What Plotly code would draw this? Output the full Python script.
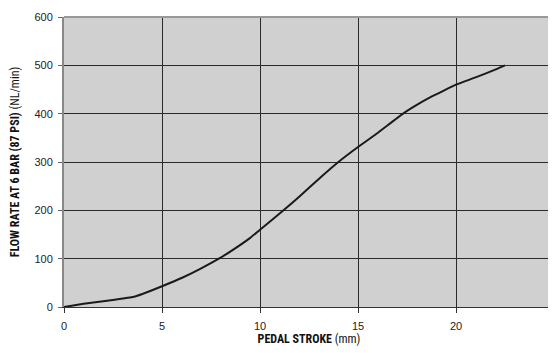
import plotly.graph_objects as go

stroke_mm = [0, 1, 2, 3, 3.5, 4, 5, 6, 7, 7.9, 8.5, 9.5, 10, 11.2, 12, 13, 14, 15, 16, 17.3, 18, 18.7, 19.2, 20, 21, 22, 22.5]
flow_nlmin = [0, 6.5, 12, 17.5, 20.5, 27, 43, 60, 80, 100, 115, 143, 160, 200, 228, 265, 300, 331, 360, 400, 418, 434, 444, 460, 475, 491, 500]

x_ticks = [0, 5, 10, 15, 20, 25]
y_ticks = [0, 100, 200, 300, 400, 500, 600]

fig = go.Figure()
fig.add_trace(go.Scatter(x=stroke_mm, y=flow_nlmin, mode="lines",
                         line=dict(color="#1a1a1a", width=2, shape="spline", smoothing=0.5),
                         showlegend=False, hoverinfo="skip"))

tick_font = dict(family="Liberation Sans, Arial, sans-serif", size=11, color="#222")
title_font = dict(family="Liberation Sans Narrow, Roboto Condensed, Liberation Sans, sans-serif", size=12, color="#111")

fig.update_layout(
    width=556, height=353,
    margin=dict(l=55.5, r=10, t=8.5, b=53.5, autoexpand=False),
    paper_bgcolor="white", plot_bgcolor="#d0d0d0",
    xaxis=dict(range=[0, 25], tickvals=x_ticks, showgrid=True, gridcolor="#2a2a2a", gridwidth=1,
               zeroline=False, showline=True, linecolor="#333", linewidth=1,
               ticks="outside", ticklen=5, tickcolor="#333", tickfont=tick_font,
               ticklabelstandoff=4, automargin=False,
               title=dict(text="<b>PEDAL STROKE</b> (mm)", font=title_font, standoff=3)),
    yaxis=dict(range=[0, 600], tickvals=y_ticks, showgrid=True, gridcolor="#2a2a2a", gridwidth=1,
               zeroline=False, showline=True, linecolor="#888", linewidth=2,
               ticks="outside", ticklen=4, tickcolor="#666", tickfont=tick_font,
               ticklabelstandoff=3, automargin=False,
               title=dict(text="<b>FLOW RATE AT 6 BAR (87 PSI)</b> (NL/min)", font=title_font, standoff=12)),
)
# top and right border
fig.add_shape(type="line", xref="x domain", yref="y domain", x0=0, x1=1, y0=1, y1=1,
              line=dict(color="#999", width=2))
fig.add_shape(type="line", xref="x domain", yref="y domain", x0=1, x1=1, y0=0, y1=1,
              line=dict(color="#999", width=2))

fig.write_html("out.html")
